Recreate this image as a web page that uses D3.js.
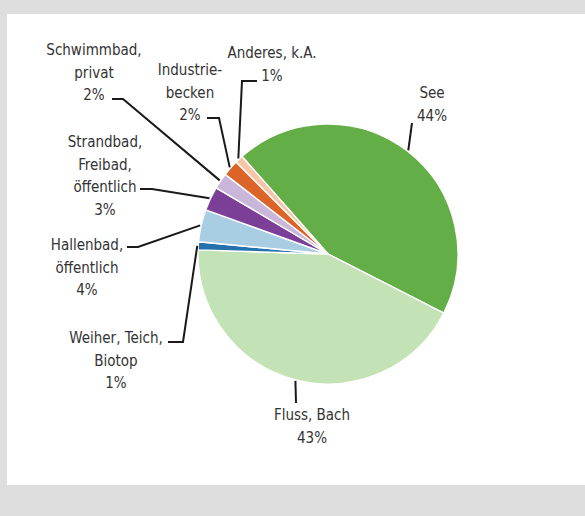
<!DOCTYPE html>
<html>
<head>
<meta charset="utf-8">
<script src="https://cdn.jsdelivr.net/npm/d3@7"></script>
<style>
  html, body { margin: 0; padding: 0; background: #dedede; }
  svg { display: block; }
  text { font-family: "DejaVu Sans Condensed", "DejaVu Sans", sans-serif; font-size: 15px; fill: #333333; }
</style>
</head>
<body>
<script>
// Badestellen nach Gewässertyp (Anteile in %)
const categories = [
  ["See"],
  ["Fluss, Bach"],
  ["Weiher, Teich,", "Biotop"],
  ["Hallenbad,", "öffentlich"],
  ["Strandbad,", "Freibad,", "öffentlich"],
  ["Schwimmbad,", "privat"],
  ["Industrie-", "becken"],
  ["Anderes, k.A."]
];
const values = [44, 43, 1, 4, 3, 2, 2, 1];
const colors = ["#64ae47", "#c3e2b6", "#2571ae", "#a9cee4", "#7c3f98", "#c9b6da", "#dc6428", "#f4c6a7"];

// Label placement: text centre x, first line y, and the elbow of the leader line
const labelLayout = [
  { x: 432, y: 93,  line: [[412, 123]] },
  { x: 312, y: 415, line: [[296, 403]] },
  { x: 116, y: 338, line: [[168, 342], [183, 342]] },
  { x: 87,  y: 245, line: [[127, 247], [138, 247]] },
  { x: 105, y: 142, line: [[140, 189], [152, 189]] },
  { x: 94,  y: 50,  line: [[112, 99],  [123, 99]] },
  { x: 190, y: 70,  line: [[207, 118], [219, 118]] },
  { x: 272, y: 53,  line: [[257, 81],  [242, 81]] }
];

const W = 585, H = 516;
const cx = 328, cy = 254, R = 130;
const lineH = 22.5;

const svg = d3.select("body").append("svg").attr("width", W).attr("height", H);

// white panel on grey background
svg.append("rect").attr("x", 7).attr("y", 14).attr("width", W - 7).attr("height", 471).attr("fill", "#ffffff");

const pie = d3.pie().sort(null).value(d => d)
  .startAngle(-41.4 * Math.PI / 180)
  .endAngle((360 - 41.4) * Math.PI / 180);
const arcs = pie(values);
const arc = d3.arc().innerRadius(0).outerRadius(R);

const g = svg.append("g").attr("transform", `translate(${cx},${cy})`);
g.selectAll("path").data(arcs).enter().append("path")
  .attr("d", arc)
  .attr("fill", (d, i) => colors[i])
  .attr("stroke", "#ffffff")
  .attr("stroke-width", 1.4)
  .attr("stroke-linejoin", "round");

// leader lines: from label elbow to the outer edge at the slice's middle angle
const lineGen = d3.line();
arcs.forEach((d, i) => {
  const mid = (d.startAngle + d.endAngle) / 2;
  const edge = [cx + (R + 1) * Math.sin(mid), cy - (R + 1) * Math.cos(mid)];
  const pts = labelLayout[i].line.concat([edge]);
  svg.append("path")
    .attr("d", lineGen(pts))
    .attr("fill", "none")
    .attr("stroke", "#1a1a1a")
    .attr("stroke-width", 2);
});

// labels
arcs.forEach((d, i) => {
  const L = labelLayout[i];
  const lines = categories[i].concat([values[i] + "%"]);
  const t = svg.append("text").attr("text-anchor", "middle");
  lines.forEach((s, k) => {
    t.append("tspan").attr("x", L.x).attr("y", L.y + k * lineH).attr("dy", "0.36em").text(s);
  });
});
</script>
</body>
</html>
